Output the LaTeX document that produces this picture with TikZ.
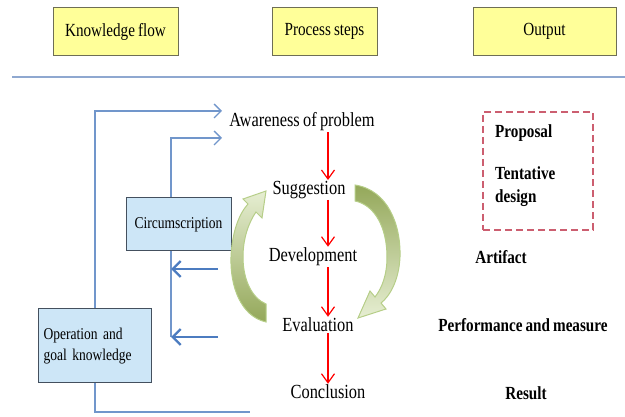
\documentclass[tikz,border=0pt]{standalone}
\usepackage{fontspec}
\setmainfont{Liberation Serif}[FakeStretch=0.82,WordSpace=0.8]
\usepackage{xcolor}
\usetikzlibrary{arrows.meta,calc,positioning}
\definecolor{headfill}{HTML}{FFFF99}
\definecolor{headedge}{HTML}{6E6E55}
\definecolor{knowfill}{HTML}{CDE6F7}
\definecolor{knowedge}{HTML}{44505E}
\definecolor{knowblue}{HTML}{7196CB}
\definecolor{backblue}{HTML}{4C7CC0}
\definecolor{sepblue}{HTML}{8FA8D0}
\definecolor{propred}{HTML}{CC5E70}
\definecolor{golive}{HTML}{94A85A}
\definecolor{gpale}{HTML}{E6EED2}
\definecolor{gedge}{HTML}{B6CE88}

\begin{document}
\begin{tikzpicture}[x=1pt,y=-1pt,
    head box/.style={draw=headedge,fill=headfill,line width=0.9pt,inner sep=0pt,
                     minimum height=48pt,font=\fontsize{18.5}{20}\selectfont},
    step node/.style={inner sep=1pt,font=\fontsize{20}{22}\selectfont},
    know box/.style={draw=knowedge,fill=knowfill,line width=1pt,inner sep=5pt,
                     font=\fontsize{16.5}{21}\selectfont},
    out text/.style={inner sep=0pt,font=\bfseries\fontsize{18.5}{23}\selectfont},
    red flow/.style={red,line width=1.2pt,-{Straight Barb[length=9pt,width=13pt]}},
    know line/.style={knowblue,line width=1.3pt},
    know arrow/.style={know line,-{Straight Barb[length=7pt,width=14pt]}},
    back arrow/.style={backblue,line width=2.4pt,-{Straight Barb[length=8pt,width=16pt]}},
    green arrow/.style={draw=gedge,line width=1pt}]
\useasboundingbox (0,0) rectangle (625,417);

\node[head box,minimum width=125pt] (KFlow) at (115.5,31.5) {Knowledge flow};
\node[head box,minimum width=105pt] (PSteps) at (324.5,31) {Process steps};
\node[head box,minimum width=143pt] (Output) at (544.5,31) {Output};
\draw[sepblue,line width=1.8pt] (12,77) -- (625,77);

\node[step node] (awareness) at (302,122) {Awareness of problem};
\node[step node] (suggestion) at (309,190) {Suggestion};
\node[step node] (development) at (313,257) {Development};
\node[step node] (evaluation) at (318,325) {Evaluation};
\node[step node] (conclusion) at (328,392) {Conclusion};

\foreach \a/\b in {awareness/suggestion,suggestion/development,development/evaluation,evaluation/conclusion}
   \draw[red flow] (\a.south -| conclusion) -- (\b.north -| conclusion);

\node[know box,minimum width=105pt,minimum height=53pt] (circ) at (178.5,224.5) {Circumscription};
\node[know box,text width=103pt,minimum height=74pt,align=left] (opknow) at (95,346)
     {Operation and\\goal knowledge};

\coordinate (outer) at (95,111);
\coordinate (outerEnd) at (222,111);
\coordinate (inner) at (171,138);
\coordinate (innerEnd) at (222,138);
\coordinate (back1) at (218,269);
\coordinate (back2) at (218,337);
\coordinate (bottomEnd) at (250,412);

\draw[know arrow] (opknow.north) |- (outerEnd);
\draw[know line] (opknow.south) |- (bottomEnd);
\draw[know arrow] (circ.north -| inner) |- (innerEnd);
\draw[know line] (circ.south -| inner) -- (inner |- back2);
\draw[back arrow] (back1) -- (back1 -| inner);
\draw[back arrow] (back2) -- (back2 -| inner);

\shadedraw[green arrow,top color=gpale,bottom color=golive]
   (266,322) .. controls (240,316) and (230,285) .. (231,257)
   .. controls (232,232) and (239,214) .. (248,204) -- (243,199) -- (266,191)
   -- (262,218) -- (256,212) .. controls (249,222) and (243,238) .. (243,257)
   .. controls (243,280) and (252,298) .. (266,304) -- cycle;
\shadedraw[green arrow,top color=golive,bottom color=gpale]
   (355,185) .. controls (388,190) and (401,225) .. (400,257)
   .. controls (399,280) and (390,296) .. (381,303) -- (386,309) -- (358,318)
   -- (370,291) -- (375,297) .. controls (382,288) and (387,275) .. (387,257)
   .. controls (387,228) and (375,205) .. (355,201) -- cycle;

\node[draw=propred,dashed,dash pattern=on 7pt off 4pt,line width=1.8pt,
      minimum width=110pt,minimum height=118pt] (propBox) at (538,171) {};
\node[out text,anchor=west] (proposal) at (495,133) {Proposal};
\node[out text,anchor=west,align=left] (tentative) at (495,187) {Tentative\\design};
\node[out text] (artifact) at (501,257) {Artifact};
\node[out text] (perf) at (523,325) {Performance and measure};
\node[out text] (result) at (526,393) {Result};
\end{tikzpicture}
\end{document}
